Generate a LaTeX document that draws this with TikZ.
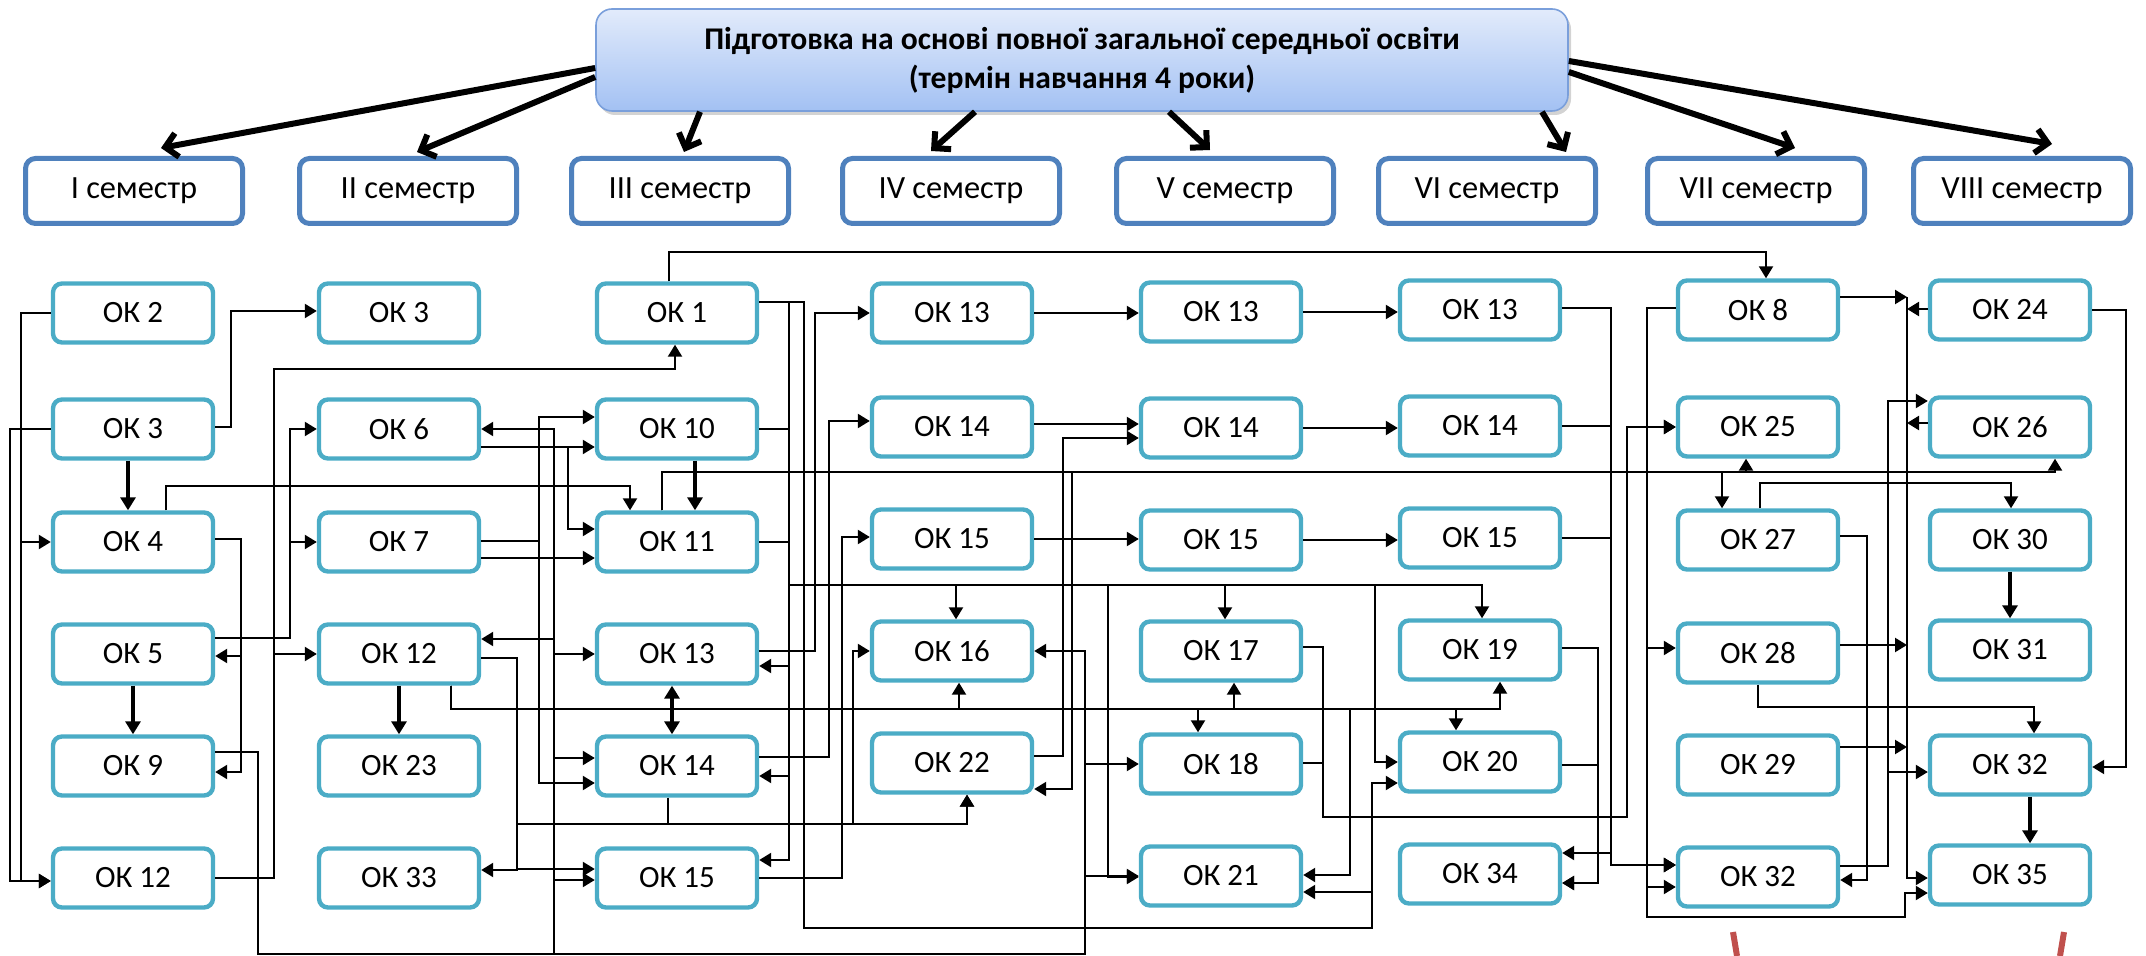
\documentclass[tikz,border=0pt]{standalone}
\usepackage{fontspec}
\setmainfont{Carlito}
\usetikzlibrary{arrows.meta,calc,shadows}
\definecolor{okc}{HTML}{4BACC6}
\definecolor{semc}{HTML}{4F81BD}
\definecolor{ttop}{HTML}{E2EBFB}
\definecolor{tbot}{HTML}{A3C1F3}
\definecolor{tborder}{HTML}{7A9FDB}
\definecolor{redm}{HTML}{C0504D}
\begin{document}
\begin{tikzpicture}[x=0.5pt,y=-0.5pt,
  okbox/.style={draw=okc,line width=2.2pt,rounded corners=4.5pt,fill=white,minimum width=80pt,minimum height=29.5pt,inner sep=0pt,font=\fontsize{15.5}{18}\selectfont},
  sembox/.style={draw=semc,line width=2.5pt,rounded corners=5pt,fill=white,minimum width=108.5pt,minimum height=32.5pt,inner sep=0pt,font=\fontsize{16.2}{19}\selectfont},
  titlebox/.style={draw=tborder,line width=0.8pt,rounded corners=8pt,top color=ttop,bottom color=tbot,minimum width=486pt,minimum height=51pt,align=center,font=\bfseries\fontsize{15.8}{19.5}\selectfont,drop shadow={shadow xshift=1.5pt,shadow yshift=-2pt,opacity=0.35}},
  conn/.style={line width=1.1pt},
  arr/.style={conn,-{Triangle[length=6pt,width=7pt]}},
  arrthick/.style={line width=1.6pt,-{Triangle[length=6.5pt,width=7.5pt]}},
  darr/.style={line width=1.6pt,{Triangle[length=6.5pt,width=7.5pt]}-{Triangle[length=6.5pt,width=7.5pt]}},
  bigarr/.style={line width=3pt,-{Straight Barb[length=6pt,width=12pt]}},
  redmark/.style={draw=redm,line width=3pt}
]
\useasboundingbox (0,0) rectangle (2146,956);

% title and semesters
\node[titlebox] (title) at (1082,60) {Підготовка на основі повної загальної середньої освіти\\(термін навчання 4 роки)};
\node[sembox] (s1) at (134,191) {I семестр};
\node[sembox] (s2) at (408,191) {II семестр};
\node[sembox] (s3) at (680,191) {III семестр};
\node[sembox] (s4) at (951,191) {IV семестр};
\node[sembox] (s5) at (1225,191) {V семестр};
\node[sembox] (s6) at (1487,191) {VI семестр};
\node[sembox] (s7) at (1756,191) {VII семестр};
\node[sembox] (s8) at (2022,191) {VIII семестр};

\draw[bigarr] ($(title.west)+(0,8)$) -- ($(s1.north)+(27,-8)$);
\draw[bigarr] ($(title.west)+(0,17)$) -- ($(s2.north)+(9,-4)$);
\draw[bigarr] ($(title.south)+(-382,0)$) -- ($(s3.north)+(4,-4)$);
\draw[bigarr] ($(title.south)+(-107,0)$) -- ($(s4.north)+(-20,-5)$);
\draw[bigarr] ($(title.south)+(87,0)$) -- ($(s5.north)+(-15,-6)$);
\draw[bigarr] ($(title.south)+(460,0)$) -- ($(s6.north)+(79,-4)$);
\draw[bigarr] ($(title.east)+(0,12)$) -- ($(s7.north)+(39,-8)$);
\draw[bigarr] ($(title.east)+(0,1)$) -- ($(s8.north)+(30,-12)$);

% column 1
\node[okbox] (a2) at (133,313) {ОК 2};
\node[okbox] (a3) at (133,429) {ОК 3};
\node[okbox] (a4) at (133,542) {ОК 4};
\node[okbox] (a5) at (133,654) {ОК 5};
\node[okbox] (a9) at (133,766) {ОК 9};
\node[okbox] (a12) at (133,878) {ОК 12};
% column 2
\node[okbox] (b3) at (399,313) {ОК 3};
\node[okbox] (b6) at (399,429) {ОК 6};
\node[okbox] (b7) at (399,542) {ОК 7};
\node[okbox] (b12) at (399,654) {ОК 12};
\node[okbox] (b23) at (399,766) {ОК 23};
\node[okbox] (b33) at (399,878) {ОК 33};
% column 3
\node[okbox] (c1) at (677,313) {ОК 1};
\node[okbox] (c10) at (677,429) {ОК 10};
\node[okbox] (c11) at (677,542) {ОК 11};
\node[okbox] (c13) at (677,654) {ОК 13};
\node[okbox] (c14) at (677,766) {ОК 14};
\node[okbox] (c15) at (677,878) {ОК 15};
% column 4
\node[okbox] (d13) at (952,313) {ОК 13};
\node[okbox] (d14) at (952,427) {ОК 14};
\node[okbox] (d15) at (952,539) {ОК 15};
\node[okbox] (d16) at (952,651) {ОК 16};
\node[okbox] (d22) at (952,763) {ОК 22};
% column 5
\node[okbox] (e13) at (1221,312) {ОК 13};
\node[okbox] (e14) at (1221,428) {ОК 14};
\node[okbox] (e15) at (1221,540) {ОК 15};
\node[okbox] (e17) at (1221,651) {ОК 17};
\node[okbox] (e18) at (1221,764) {ОК 18};
\node[okbox] (e21) at (1221,876) {ОК 21};
% column 6
\node[okbox] (f13) at (1480,310) {ОК 13};
\node[okbox] (f14) at (1480,426) {ОК 14};
\node[okbox] (f15) at (1480,538) {ОК 15};
\node[okbox] (f19) at (1480,650) {ОК 19};
\node[okbox] (f20) at (1480,762) {ОК 20};
\node[okbox] (f34) at (1480,874) {ОК 34};
% column 7
\node[okbox] (g8) at (1758,310) {ОК 8};
\node[okbox] (g25) at (1758,427) {ОК 25};
\node[okbox] (g27) at (1758,540) {ОК 27};
\node[okbox] (g28) at (1758,653) {ОК 28};
\node[okbox] (g29) at (1758,765) {ОК 29};
\node[okbox] (g32) at (1758,877) {ОК 32};
% column 8
\node[okbox] (h24) at (2010,310) {ОК 24};
\node[okbox] (h26) at (2010,427) {ОК 26};
\node[okbox] (h30) at (2010,540) {ОК 30};
\node[okbox] (h31) at (2010,650) {ОК 31};
\node[okbox] (h32) at (2010,765) {ОК 32};
\node[okbox] (h35) at (2010,875) {ОК 35};

% ---- column 1 connectors
\draw[arr] (a2.west) -- (21,313) |- (a4.west);
\draw[arr] (a2.west) -- (21,313) |- ($(a12.west)+(0,3)$);
\draw[arr] (a3.west) -- (10,429) |- ($(a12.west)+(0,3)$);
\draw[arr] ($(a3.east)+(0,-2)$) -- (231,427) |- ($(b3.west)+(0,-2)$);
\draw[arrthick] ($(a3.south)+(-5,0)$) -- ($(a4.north)+(-5,0)$);
\draw[arr] ($(a4.north)+(33,0)$) -- (166,486) -| ($(c11.north)+(-47,0)$);
\draw[arr] ($(a4.east)+(0,-3)$) -- (241,539) |- ($(a5.east)+(0,2)$);
\draw[arr] ($(a4.east)+(0,-3)$) -- (241,539) |- ($(a9.east)+(0,6)$);
\draw[arrthick] (a5.south) -- (a9.north);
\draw[arr] ($(a5.east)+(0,-16)$) -- (290,638) |- (b6.west);
\draw[arr] ($(a5.east)+(0,-16)$) -- (290,638) |- (b7.west);
% OK 9 trunk
\draw[arr] ($(a9.east)+(0,-14)$) -- (258,752) -- (258,954) -- (1085,954) |- (d16.east);
\draw[arr] ($(a9.east)+(0,-14)$) -- (258,752) -- (258,954) -- (1085,954) |- (e18.west);
\draw[arr] ($(a9.east)+(0,-14)$) -- (258,752) -- (258,954) -- (1085,954) |- (e21.west);
\draw[arr] ($(a9.east)+(0,-14)$) -- (258,752) -- (258,954) -- (554,954) |- (b6.east);
\draw[arr] ($(a9.east)+(0,-14)$) -- (258,752) -- (258,954) -- (554,954) |- ($(b12.east)+(0,-15)$);
\draw[arr] ($(a9.east)+(0,-14)$) -- (258,752) -- (258,954) -- (554,954) |- (c13.west);
\draw[arr] ($(a9.east)+(0,-14)$) -- (258,752) -- (258,954) -- (554,954) |- ($(c14.west)+(0,-8)$);
\draw[arr] ($(a9.east)+(0,-14)$) -- (258,752) -- (258,954) -- (554,954) |- ($(c15.west)+(0,2)$);
% OK 12 (col 1)
\draw[arr] (a12.east) -- (274,878) -- (274,369) -| ($(c1.south)+(-2,0)$);
\draw[arr] (a12.east) -- (274,878) |- (b12.west);

% ---- column 2 connectors
\draw[arrthick] (b12.south) -- (b23.north);
\draw[arr] ($(b12.east)+(0,4)$) -- (517,658) |- ($(b33.east)+(0,-8)$);
\draw[arr] ($(b12.east)+(0,4)$) -- (517,658) |- ($(c15.west)+(0,-9)$);
\draw[arr] ($(b12.east)+(0,4)$) -- (517,658) |- (853,824) |- (d16.west);
\draw[arr] ($(b12.east)+(0,4)$) -- (517,658) -- (517,824) -| ($(d22.south)+(15,0)$);
\draw[arr] ($(c14.south)+(-9,0)$) -- (668,824) -| ($(d22.south)+(15,0)$);
\draw[arr] ($(b12.south)+(52,0)$) -- (451,709) -| ($(d16.south)+(7,0)$);
\draw[arr] ($(b12.south)+(52,0)$) -- (451,709) -| ($(e17.south)+(13,0)$);
\draw[arr] ($(b12.south)+(52,0)$) -- (451,709) -| ($(e18.north)+(-23,0)$);
\draw[arr] ($(b12.south)+(52,0)$) -- (451,709) -| ($(f19.south)+(20,0)$);
\draw[arr] ($(b12.south)+(52,0)$) -- (451,709) -| ($(f20.north)+(-24,0)$);
\draw[arr] ($(b12.south)+(52,0)$) -- (451,709) -- (1350,709) |- ($(e21.east)+(0,-1)$);
\draw[arr] ($(b6.east)+(0,18)$) -- ($(c10.west)+(0,18)$);
\draw[arr] ($(b6.east)+(0,18)$) -- (568,447) |- ($(c11.west)+(0,-13)$);
\draw[arr] ($(b7.east)+(0,-1)$) -- (539,541) |- ($(c10.west)+(0,-12)$);
\draw[arr] ($(b7.east)+(0,-1)$) -- (539,541) |- ($(c14.west)+(0,17)$);
\draw[arr] ($(b7.east)+(0,16)$) -- ($(c11.west)+(0,16)$);

% ---- column 3 connectors
\draw[darr] ($(c13.south)+(-5,0)$) -- ($(c14.north)+(-5,0)$);
\draw[arrthick] ($(c10.south)+(18,0)$) -- ($(c11.north)+(18,0)$);
\coordinate (hub) at (789,302);
\draw[arr] ($(c1.east)+(0,-11)$) -- (hub) |- ($(c13.east)+(0,12)$);
\draw[arr] ($(c1.east)+(0,-11)$) -- (hub) |- ($(c14.east)+(0,10)$);
\draw[arr] ($(c1.east)+(0,-11)$) -- (hub) |- ($(c15.east)+(0,-18)$);
\draw[arr] ($(c1.east)+(0,-11)$) -- (hub) -- (789,585) -| ($(d16.north)+(4,0)$);
\draw[arr] ($(c1.east)+(0,-11)$) -- (hub) -- (789,585) -| ($(e17.north)+(4,0)$);
\draw[arr] ($(c1.east)+(0,-11)$) -- (hub) -- (789,585) -| ($(f19.north)+(2,0)$);
\draw[arr] ($(c1.east)+(0,-11)$) -- (hub) -- (789,585) -- (1108,585) |- ($(e21.west)+(0,1)$);
\draw[arr] ($(c1.east)+(0,-11)$) -- (hub) -- (789,585) -- (1375,585) |- (f20.west);
\draw[conn] (c10.east) -- (c10.east -| hub);
\draw[conn] (c11.east) -- (c11.east -| hub);
\draw[arr] ($(c1.east)+(0,-11)$) -- (804,302) -- (804,928) -- (1372,928) |- ($(f20.west)+(0,21)$);
\draw[arr] ($(c1.east)+(0,-11)$) -- (804,302) -- (804,928) -- (1372,928) |- ($(e21.east)+(0,16)$);
\draw[arr] ($(c1.north)+(-8,0)$) -- (669,252) -| ($(g8.north)+(8,0)$);
\draw[arr] ($(c13.east)+(0,-3)$) -- (815,651) |- (d13.west);
\draw[arr] ($(c14.east)+(0,-9)$) -- (829,757) |- ($(d14.west)+(0,-6)$);
\draw[arr] (c15.east) -- (842,878) |- ($(d15.west)+(0,-2)$);
\draw[arr] ($(c11.north)+(-15,0)$) -- (662,472) -| ($(g27.north)+(-36,0)$);
\draw[arr] ($(c11.north)+(-15,0)$) -- (662,472) -| ($(g25.south)+(-12,0)$);
\draw[arr] ($(c11.north)+(-15,0)$) -- (662,472) -| ($(h26.south)+(45,0)$);
\draw[arr] ($(c11.north)+(-15,0)$) -- (662,472) -- (1072,472) |- ($(d22.east)+(0,26)$);

% ---- columns 4-6
\draw[arr] (d13.east) -- (d13.east -| e13.west);
\draw[arr] ($(d14.east)+(0,-3)$) -- ($(e14.west)+(0,-4)$);
\draw[arr] (d15.east) -- (d15.east -| e15.west);
\draw[arr] (e13.east) -- (e13.east -| f13.west);
\draw[arr] (e14.east) -- (e14.east -| f14.west);
\draw[arr] (e15.east) -- (e15.east -| f15.west);
\draw[arr] ($(d22.east)+(0,-7)$) -- (1063,756) |- ($(e14.west)+(0,10)$);
\draw[arr] ($(e17.east)+(0,-4)$) -- (1323,647) -- (1323,817) -- (1627,817) |- (g25.west);
\draw[arr] ($(e18.east)+(0,-1)$) -- (1323,763) -- (1323,817) -- (1627,817) |- (g25.west);
\draw[arr] ($(f13.east)+(0,-2)$) -- (1611,308) |- ($(g32.west)+(0,-12)$);
\draw[arr] ($(f13.east)+(0,-2)$) -- (1611,308) |- ($(f34.east)+(0,-21)$);
\draw[arr] (f14.east) -- (1611,426) |- ($(g32.west)+(0,-12)$);
\draw[arr] (f15.east) -- (1611,538) |- ($(g32.west)+(0,-12)$);
\draw[arr] ($(f19.east)+(0,-2)$) -- (1598,648) |- ($(f34.east)+(0,9)$);
\draw[arr] ($(f20.east)+(0,3)$) -- (1598,765) |- ($(f34.east)+(0,9)$);

% ---- columns 7-8
\draw[arr] ($(g8.west)+(0,-2)$) -- (1647,308) |- ($(g28.west)+(0,-5)$);
\draw[arr] ($(g8.west)+(0,-2)$) -- (1647,308) |- ($(g32.west)+(0,10)$);
\draw[arr] ($(g8.west)+(0,-2)$) -- (1647,308) -- (1647,917) -- (1905,917) |- ($(h35.west)+(0,18)$);
\coordinate (bA) at (1907,297);
\coordinate (bB) at (1907,309);
\coordinate (bC) at (1907,423);
\coordinate (bD) at (1907,645);
\coordinate (bE) at (1907,747);
\draw[arr] ($(g8.east)+(0,-13)$) -- (bA);
\draw[arr] ($(h24.west)+(0,-1)$) -- (bB);
\draw[arr] ($(h26.west)+(0,-4)$) -- (bC);
\draw[arr] ($(g28.east)+(0,-8)$) -- (bD);
\draw[arr] ($(g29.east)+(0,-18)$) -- (bE);
\draw[arr] (bA) -- (1907,878) -- ($(h35.west)+(0,3)$);
\draw[arr] ($(g32.east)+(0,-11)$) -- (1888,866) |- ($(h26.west)+(0,-26)$);
\draw[arr] ($(g32.east)+(0,-11)$) -- (1888,866) |- ($(h32.west)+(0,7)$);
\draw[arr] ($(g27.east)+(0,-4)$) -- (1867,536) |- ($(g32.east)+(0,3)$);
\draw[arr] ($(g27.north)+(2,0)$) -- (1760,483) -| ($(h30.north)+(1,0)$);
\draw[arr] (h24.east) -- (2126,310) |- ($(h32.east)+(0,2)$);
\draw[arrthick] (h30.south) -- (h31.north);
\draw[arr] (g28.south) -- (1758,707) -| ($(h32.north)+(24,0)$);
\draw[arrthick] ($(h32.south)+(20,0)$) -- ($(h35.north)+(20,0)$);

% red marks at bottom edge
\draw[redmark] (1733,932) -- (1737,956);
\draw[redmark] (2064,932) -- (2060,956);
\end{tikzpicture}
\end{document}
